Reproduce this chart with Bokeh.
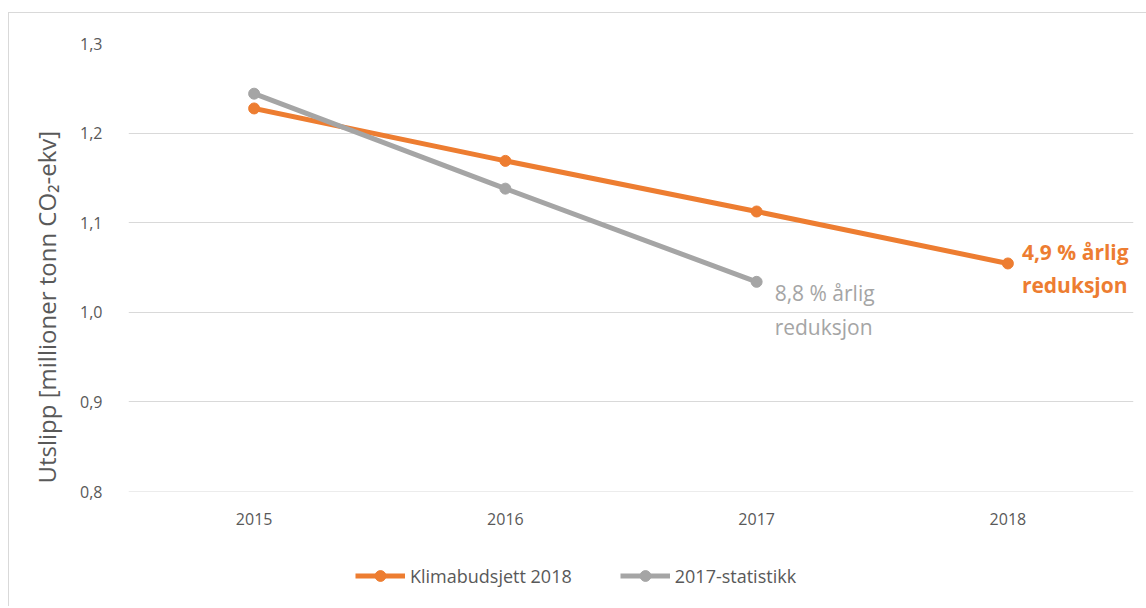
from bokeh.plotting import figure
from bokeh.models import FactorRange, Range1d, FixedTicker, Legend, LegendItem, Span, Spacer, Title
from bokeh.layouts import column, row
from bokeh.core.properties import value
from bokeh.embed import file_html
from bokeh.resources import INLINE

years = ["2015", "2016", "2017", "2018"]
klima = [1.2275, 1.169, 1.1125, 1.0545]
stat_years = ["2015", "2016", "2017"]
stat = [1.244, 1.138, 1.034]
y_ticks = [0.8, 0.9, 1.0, 1.1, 1.2, 1.3]
y_tick_labels = ["0,8", "0,9", "1,0", "1,1", "1,2", "1,3"]
klima_label = "4,9 % årlig\nreduksjon"
stat_label = "8,8 % årlig\nreduksjon"
klima_name = "Klimabudsjett 2018"
stat_name = "2017-statistikk"
y_title = "Utslipp [millioner tonn CO₂-ekv]"

ORANGE = "#ED7D31"
GRAY = "#A5A5A5"
TXT = "#595959"
BORDER = "1px solid #d9d9d9"
FONT = "Open Sans"

p = figure(width=1138, height=548, x_range=FactorRange(*years),
           y_range=Range1d(0.8, 1.3), output_backend="svg",
           toolbar_location=None, min_border_left=119, min_border_right=14,
           min_border_top=30, min_border_bottom=70)
p.styles = {"border-top": BORDER, "border-left": BORDER}
p.outline_line_color = None
p.background_fill_color = "white"

p.xgrid.grid_line_color = None
p.ygrid.grid_line_color = "#d9d9d9"
p.ygrid.grid_line_width = 1
p.add_layout(Span(location=y_ticks[0], dimension="width", line_color="#d9d9d9", line_width=1))
p.yaxis.ticker = FixedTicker(ticks=y_ticks)
p.yaxis.major_label_overrides = {t: l for t, l in zip(y_ticks, y_tick_labels)}
for ax in (p.xaxis, p.yaxis):
    ax.axis_line_color = None
    ax.major_tick_line_color = None
    ax.minor_tick_line_color = None
    ax.major_label_text_color = TXT
    ax.major_label_text_font = FONT
    ax.major_label_text_font_size = "16px"
p.yaxis.major_label_standoff = 20
p.xaxis.major_label_standoff = 15

p.add_layout(Title(text=y_title, align="left", offset=8, standoff=29,
                   text_font=FONT, text_font_size="24px", text_font_style="normal",
                   text_color=TXT), "left")

p.line(years, klima, line_color=ORANGE, line_width=5)
p.scatter(years, klima, size=11, fill_color=ORANGE, line_color=ORANGE)
p.line(stat_years, stat, line_color=GRAY, line_width=5)
p.scatter(stat_years, stat, size=11, fill_color=GRAY, line_color=GRAY)

p.text(x=[years[-1]], y=[klima[-1]], text=[klima_label], x_offset=14, y_offset=5,
       text_font=value(FONT), text_font_size="21px", text_font_style="bold",
       text_color=ORANGE, text_baseline="middle", text_line_height=1.2)
p.text(x=[stat_years[-1]], y=[stat[-1]], text=[stat_label], x_offset=18, y_offset=28,
       text_font=value(FONT), text_font_size="21px",
       text_color=GRAY, text_baseline="middle", text_line_height=1.2)

# legend strip under the chart (its series sit outside the strip's visible range)
pl = figure(width=1138, height=46, x_range=p.x_range, y_range=Range1d(0, 0.5),
            output_backend="svg", toolbar_location=None,
            x_axis_location=None, y_axis_location=None,
            min_border_left=119, min_border_right=14, min_border_top=0, min_border_bottom=0)
pl.styles = {"border-left": BORDER}
pl.outline_line_color = None
pl.grid.visible = False
k_line = pl.line(years, klima, line_color=ORANGE, line_width=5)
k_dot = pl.scatter(years, klima, size=11, fill_color=ORANGE, line_color=ORANGE)
s_line = pl.line(stat_years, stat, line_color=GRAY, line_width=5)
s_dot = pl.scatter(stat_years, stat, size=11, fill_color=GRAY, line_color=GRAY)
legend = Legend(items=[LegendItem(label=klima_name, renderers=[k_line, k_dot]),
                       LegendItem(label=stat_name, renderers=[s_line, s_dot])],
                orientation="horizontal", location=(227, 17),
                glyph_width=50, glyph_height=27, label_standoff=5, spacing=48,
                padding=0, margin=0, border_line_color=None,
                background_fill_alpha=0, label_text_font=FONT,
                label_text_font_size="18px", label_text_color=TXT)
pl.add_layout(legend, "center")

layout = column(Spacer(height=12), row(Spacer(width=8), column(p, pl, spacing=0)), spacing=0)
open("out.html", "w").write(file_html(layout, INLINE))
